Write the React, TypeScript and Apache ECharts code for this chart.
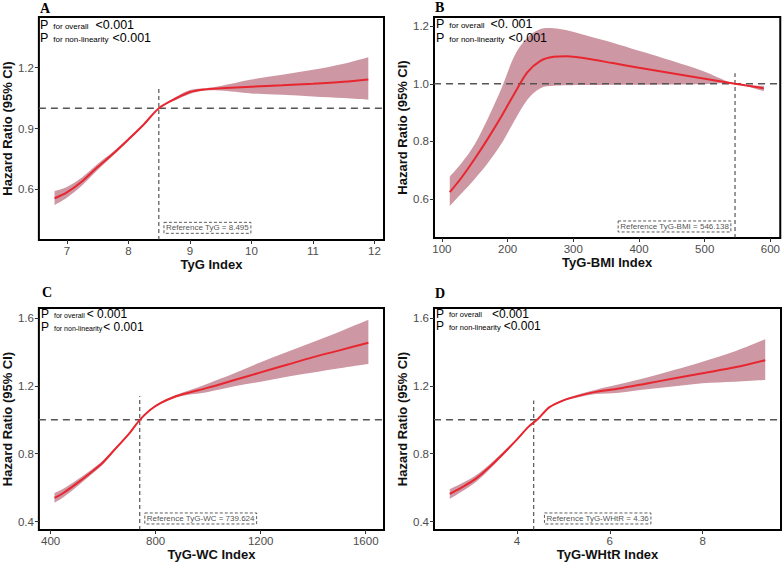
import React, { useEffect, useRef } from "react";
import * as echarts from "echarts";

// ---- TyG ----
const tygX = [6.8, 7.0, 7.25, 7.5, 7.75, 8.0, 8.25, 8.495, 8.75, 9.0, 9.25, 9.5, 10, 10.5, 11, 11.5, 11.9];
const tygHR = [0.556, 0.585, 0.64, 0.71, 0.775, 0.846, 0.92, 1.0, 1.045, 1.08, 1.093, 1.098, 1.106, 1.113, 1.121, 1.131, 1.142];
const tygLower = [0.522, 0.558, 0.62, 0.695, 0.765, 0.839, 0.916, 1.0, 1.038, 1.07, 1.087, 1.087, 1.073, 1.066, 1.058, 1.05, 1.042];
const tygUpper = [0.592, 0.612, 0.66, 0.725, 0.785, 0.853, 0.924, 1.0, 1.052, 1.09, 1.099, 1.11, 1.142, 1.165, 1.19, 1.22, 1.252];

// ---- TyG-BMI ----
const bmiX = [112, 130, 150, 170, 190, 210, 230, 250, 270, 290, 320, 360, 400, 450, 500, 546.138, 590];
const bmiHR = [0.624, 0.675, 0.74, 0.81, 0.885, 0.965, 1.04, 1.08, 1.094, 1.096, 1.088, 1.072, 1.056, 1.037, 1.018, 1.0, 0.985];
const bmiLower = [0.576, 0.62, 0.67, 0.725, 0.79, 0.87, 0.945, 0.985, 0.993, 0.995, 0.996, 0.997, 0.997, 0.998, 0.999, 1.0, 0.974];
const bmiUpper = [0.678, 0.725, 0.79, 0.88, 0.98, 1.095, 1.16, 1.19, 1.193, 1.186, 1.168, 1.143, 1.115, 1.08, 1.042, 1.0, 0.993];

// ---- TyG-WC ----
const wcX = [415, 450, 500, 550, 600, 650, 700, 739.624, 780, 820, 870, 920, 1000, 1100, 1200, 1300, 1400, 1500, 1610];
const wcHR = [0.539, 0.57, 0.625, 0.685, 0.75, 0.835, 0.92, 1.0, 1.06, 1.1, 1.135, 1.158, 1.19, 1.235, 1.28, 1.325, 1.37, 1.41, 1.455];
const wcLower = [0.511, 0.545, 0.605, 0.67, 0.738, 0.827, 0.916, 1.0, 1.056, 1.094, 1.128, 1.147, 1.165, 1.198, 1.225, 1.255, 1.28, 1.305, 1.33];
const wcUpper = [0.569, 0.595, 0.645, 0.7, 0.762, 0.843, 0.924, 1.0, 1.064, 1.106, 1.142, 1.17, 1.215, 1.275, 1.34, 1.4, 1.46, 1.52, 1.59];

// ---- TyG-WHtR ----
const whtrX = [2.55, 2.8, 3.1, 3.4, 3.7, 4.0, 4.25, 4.45, 4.7, 5.0, 5.3, 5.7, 6.2, 6.8, 7.4, 8.0, 8.7, 9.35];
const whtrHR = [0.563, 0.6, 0.65, 0.72, 0.8, 0.885, 0.96, 1.005, 1.075, 1.115, 1.14, 1.165, 1.185, 1.215, 1.245, 1.275, 1.31, 1.352];
const whtrLower = [0.533, 0.575, 0.63, 0.705, 0.79, 0.88, 0.957, 1.004, 1.072, 1.11, 1.132, 1.152, 1.16, 1.18, 1.198, 1.216, 1.225, 1.235];
const whtrUpper = [0.592, 0.625, 0.67, 0.735, 0.81, 0.89, 0.963, 1.006, 1.078, 1.12, 1.148, 1.178, 1.21, 1.25, 1.295, 1.343, 1.405, 1.475];

// ---- axes, ticks, references ----
const letters = ["A", "B", "C", "D"];
const xNames = ["TyG Index", "TyG-BMI Index", "TyG-WC Index", "TyG-WHtR Index"];
const xRanges = [[6.545, 12.155], [88, 615], [355.5, 1669.5], [2.21, 9.69]];
const yRanges = [[0.35, 1.45], [0.465, 1.232], [0.35, 1.66], [0.35, 1.66]];
const xTicks = [[7, 8, 9, 10, 11, 12], [100, 200, 300, 400, 500, 600], [400, 800, 1200, 1600], [4, 6, 8]];
const yTicks = [[0.6, 0.9, 1.2], [0.6, 0.8, 1.0, 1.2], [0.4, 0.8, 1.2, 1.6], [0.4, 0.8, 1.2, 1.6]];
const refValues = [8.495, 546.138, 739.624, 4.36];
const refLineTops = [1.1, 1.037, 1.14, 1.114];
const refLabels = ["Reference TyG = 8.495", "Reference TyG-BMI = 546.138", "Reference TyG-WC = 739.624", "Reference TyG-WHtR = 4.36"];
const refLabelAnchors = [[8.57, 0.41], [540.6, 0.505], [756.9, 0.418], [4.58, 0.418]];
const pOverall = ["<0.001", "<0. 001", "< 0.001", "<0.001"];
const pNonLinear = ["<0.001", "<0.001", "< 0.001", "<0.001"];

const xs = [tygX, bmiX, wcX, whtrX];
const hrs = [tygHR, bmiHR, wcHR, whtrHR];
const lows = [tygLower, bmiLower, wcLower, whtrLower];
const highs = [tygUpper, bmiUpper, wcUpper, whtrUpper];

// ---- layout ----
const grids = [
  { left: 37, top: 17, width: 347, height: 223 },
  { left: 434, top: 17, width: 347, height: 221 },
  { left: 37, top: 308, width: 347, height: 222 },
  { left: 434, top: 308, width: 347, height: 222 },
];
const letterPos = [[40, 1], [435, 0], [42, 285], [435, 286]];
const pTextPos = [
  { x: 40, y1: 31, y2: 44, g1: 7, g2: 4, size: 12.5, sub: 8 },
  { x: 436, y1: 30, y2: 44.5, g1: 6, g2: 4, size: 12.5, sub: 8 },
  { x: 41, y1: 320, y2: 332.5, g1: 2, g2: 1, size: 12, sub: 7 },
  { x: 436, y1: 319.5, y2: 332, g1: 10, g2: 3, size: 12, sub: 7.5 },
];
const labelSides = ["right", "left", "right", "right"];

const FONT = "'Liberation Sans', Arial, Helvetica, sans-serif";
const BAND = "#cd97a3";
const CURVE = "#e8262f";

// Catmull-Rom spline through pixel points, emitted as cubic Bezier segments
function splineSegments(pts: number[][], start: "M" | "L"): string {
  let d = `${start}${pts[0][0]},${pts[0][1]}`;
  for (let i = 0; i < pts.length - 1; i++) {
    const p0 = pts[i - 1] || pts[i];
    const p1 = pts[i];
    const p2 = pts[i + 1];
    const p3 = pts[i + 2] || p2;
    const c1x = p1[0] + (p2[0] - p0[0]) / 6;
    const c1y = p1[1] + (p2[1] - p0[1]) / 6;
    const c2x = p2[0] - (p3[0] - p1[0]) / 6;
    const c2y = p2[1] - (p3[1] - p1[1]) / 6;
    d += `C${c1x},${c1y},${c2x},${c2y},${p2[0]},${p2[1]}`;
  }
  return d;
}

function buildOption() {
  const xAxis: any[] = [];
  const yAxis: any[] = [];
  const series: any[] = [];
  const graphic: any[] = [];

  for (let i = 0; i < 4; i++) {
    xAxis.push({
      type: "value",
      gridIndex: i,
      min: xRanges[i][0],
      max: xRanges[i][1],
      axisLine: { show: false, onZero: false },
      splitLine: { show: false },
      axisTick: { show: true, length: 4, lineStyle: { color: "#333", width: 1 }, customValues: xTicks[i] },
      axisLabel: {
        color: "#4d4d4d",
        fontSize: 11.5,
        fontFamily: FONT,
        margin: 5,
        customValues: xTicks[i],
        formatter: (v: number) => String(v),
      },
      name: xNames[i],
      nameLocation: "middle",
      nameGap: 17,
      nameTextStyle: { fontWeight: "bold", fontSize: 13, color: "#111", fontFamily: FONT },
    });
    yAxis.push({
      type: "value",
      gridIndex: i,
      min: yRanges[i][0],
      max: yRanges[i][1],
      axisLine: { show: false, onZero: false },
      splitLine: { show: false },
      axisTick: { show: true, length: 4, lineStyle: { color: "#333", width: 1 }, customValues: yTicks[i] },
      axisLabel: {
        color: "#4d4d4d",
        fontSize: 11.5,
        fontFamily: FONT,
        margin: 5,
        customValues: yTicks[i],
        formatter: (v: number) => v.toFixed(1),
      },
      name: "Hazard Ratio (95% CI)",
      nameLocation: "middle",
      nameGap: 23,
      nameTextStyle: { fontWeight: "bold", fontSize: 13, color: "#111", fontFamily: FONT },
    });

    const x = xs[i];
    const lo = lows[i];
    const hi = highs[i];
    const bandData = x.map((v, k) => [v, lo[k], hi[k]]);
    const hrData = x.map((v, k) => [v, hrs[i][k]]);

    // 95% confidence band between lower and upper limits
    series.push({
      type: "custom",
      xAxisIndex: i,
      yAxisIndex: i,
      data: bandData,
      encode: { x: 0, y: [1, 2] },
      silent: true,
      renderItem: (params: any, api: any) => {
        if (params.dataIndex !== 0) return null;
        const lowerPts = bandData.map((r) => api.coord([r[0], r[1]]));
        const upperPts = bandData.map((r) => api.coord([r[0], r[2]])).reverse();
        const d = splineSegments(lowerPts, "M") + splineSegments(upperPts, "L") + "Z";
        return { type: "path", shape: { pathData: d }, style: { fill: BAND, stroke: "none" } };
      },
    });
    // HR = 1 reference
    series.push({
      type: "line",
      xAxisIndex: i,
      yAxisIndex: i,
      data: [[xRanges[i][0], 1], [xRanges[i][1], 1]],
      symbol: "none",
      silent: true,
      lineStyle: { color: "#555", width: 1.5, type: [7, 5] },
    });
    // reference value vertical line
    series.push({
      type: "line",
      xAxisIndex: i,
      yAxisIndex: i,
      data: [[refValues[i], yRanges[i][0]], [refValues[i], refLineTops[i]]],
      symbol: "none",
      silent: true,
      lineStyle: { color: "#333", width: 1, type: [4, 3] },
    });
    // fitted hazard ratio
    series.push({
      type: "line",
      xAxisIndex: i,
      yAxisIndex: i,
      data: hrData,
      smooth: 0.3,
      symbol: "none",
      silent: true,
      lineStyle: { color: CURVE, width: 2 },
    });
    // reference annotation box
    series.push({
      type: "scatter",
      xAxisIndex: i,
      yAxisIndex: i,
      data: [refLabelAnchors[i]],
      symbolSize: 1,
      silent: true,
      itemStyle: { color: "rgba(0,0,0,0)" },
      label: {
        show: true,
        position: labelSides[i],
        distance: 0,
        formatter: refLabels[i],
        fontSize: 8,
        fontFamily: FONT,
        color: "#222",
        borderColor: "#333",
        borderWidth: 1,
        borderType: [3, 2],
        padding: [2, 2, 1, 2],
      },
    });

    graphic.push({
      type: "text",
      left: letterPos[i][0],
      top: letterPos[i][1],
      style: { text: letters[i], fontSize: 14, fontWeight: "bold", fontFamily: "'Liberation Serif', 'Times New Roman', serif", fill: "#000" },
    });

    const pp = pTextPos[i];
    const rich = (gap: number) => ({
      p: { fontSize: pp.size, fontFamily: FONT, fill: "#000", verticalAlign: "bottom" },
      s: { fontSize: pp.sub, fontFamily: FONT, fill: "#000", verticalAlign: "bottom", padding: [0, 0, 1, 5] },
      v: { fontSize: pp.size, fontFamily: FONT, fill: "#000", verticalAlign: "bottom", padding: [0, 0, 0, gap] },
    });
    graphic.push({
      type: "text",
      x: pp.x,
      y: pp.y1,
      z: 10,
      style: {
        text: "{p|P}{s|for overall}{v|" + pOverall[i] + "}",
        verticalAlign: "bottom",
        rich: rich(pp.g1),
      },
    });
    graphic.push({
      type: "text",
      x: pp.x,
      y: pp.y2,
      z: 10,
      style: {
        text: "{p|P}{s|for non-linearity}{v|" + pNonLinear[i] + "}",
        verticalAlign: "bottom",
        rich: rich(pp.g2),
      },
    });
  }

  return {
    animation: false,
    backgroundColor: "#fff",
    grid: grids.map((g) => ({ ...g, show: true, borderColor: "#000", borderWidth: 2, backgroundColor: "transparent" })),
    xAxis,
    yAxis,
    series,
    graphic,
  };
}

export default function App() {
  const ref = useRef<HTMLDivElement>(null);
  useEffect(() => {
    if (!ref.current) return;
    const chart = echarts.init(ref.current, null, { renderer: "svg" });
    chart.setOption(buildOption() as any);
    return () => chart.dispose();
  }, []);
  return <div ref={ref} style={{ position: "fixed", left: 0, top: 0, width: 783, height: 564, background: "#fff" }} />;
}
